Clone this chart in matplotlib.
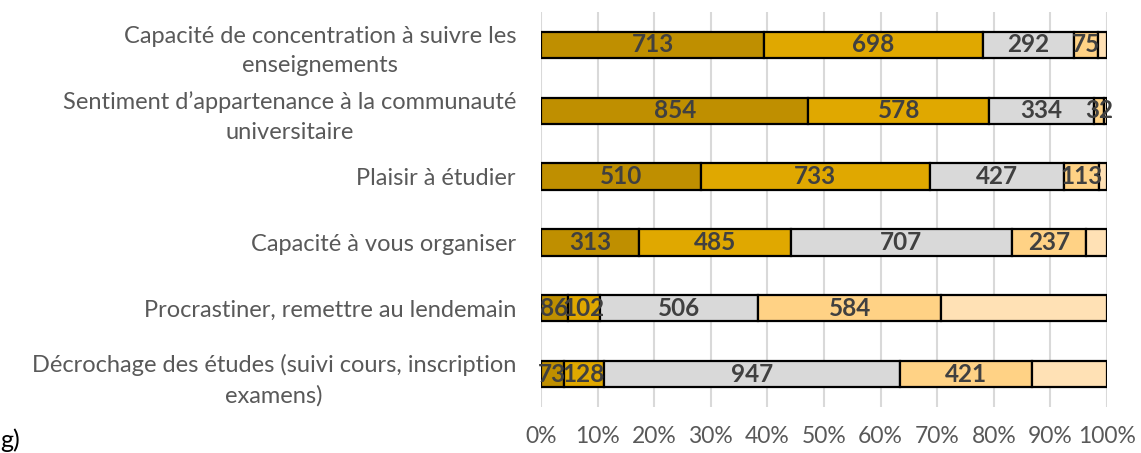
import matplotlib
matplotlib.use("Agg")
import matplotlib.pyplot as plt
import numpy as np

categories = [
    "Capacité de concentration à suivre les\nenseignements",
    "Sentiment d’appartenance à la communauté\nuniversitaire",
    "Plaisir à étudier",
    "Capacité à vous organiser",
    "Procrastiner, remettre au lendemain",
    "Décrochage des études (suivi cours, inscription\nexamens)",
]
s1 = [713, 854, 510, 313, 86, 73]
s2 = [698, 578, 733, 485, 102, 128]
s3 = [292, 334, 427, 707, 506, 947]
s4 = [75, 32, 113, 237, 584, 421]
s5 = [30, 10, 25, 66, 530, 239]
series = [s1, s2, s3, s4, s5]
colors = ["#BF8F00", "#E0A800", "#D9D9D9", "#FFD285", "#FFE1B5"]
labeled = [True, True, True, True, False]
xticks = np.arange(0, 1.01, 0.1)
xticklabels = [f"{int(round(t*100))}%" for t in xticks]

plt.rcParams['font.family'] = ['Lato', 'DejaVu Sans']
fig = plt.figure(figsize=(11.41, 4.53), dpi=100)
ax = fig.add_axes([541/1141, 1-407/453, (1107-541)/1141, (407-12)/453])

data = np.array(series, dtype=float)
totals = data.sum(axis=0)
shares = data / totals
y = np.arange(len(categories))
left = np.zeros(len(categories))
for i, (sh, vals) in enumerate(zip(shares, series)):
    ax.barh(y, sh, left=left, height=0.4, color=colors[i], edgecolor="black",
            linewidth=1.6, zorder=3)
    if labeled[i]:
        for yi, (l, w, v) in enumerate(zip(left, sh, vals)):
            ax.text(l + w/2, yi, str(v), ha="center", va="center",
                    fontsize=17.5, fontweight="bold", color="#404040", zorder=4)
    left = left + sh

ax.set_xlim(0, 1)
ax.set_ylim(len(categories)-0.5, -0.5)
ax.set_xticks(xticks)
ax.set_xticklabels(xticklabels, fontsize=16.5, color="#595959")
ax.set_yticks(y)
ax.set_yticklabels(categories, fontsize=17, color="#595959",
                   multialignment="center", linespacing=1.5)
ax.tick_params(axis="both", length=0)
ax.tick_params(axis="x", pad=14)
ax.tick_params(axis="y", pad=18)
ax.grid(axis="x", color="#D9D9D9", linewidth=1.5, zorder=0)
for s in ax.spines.values():
    s.set_visible(False)

fig.text(0/1141, 1-440/453, "g)", fontsize=18, color="black", ha="left", va="center")

fig.savefig("out.png", dpi=100)
